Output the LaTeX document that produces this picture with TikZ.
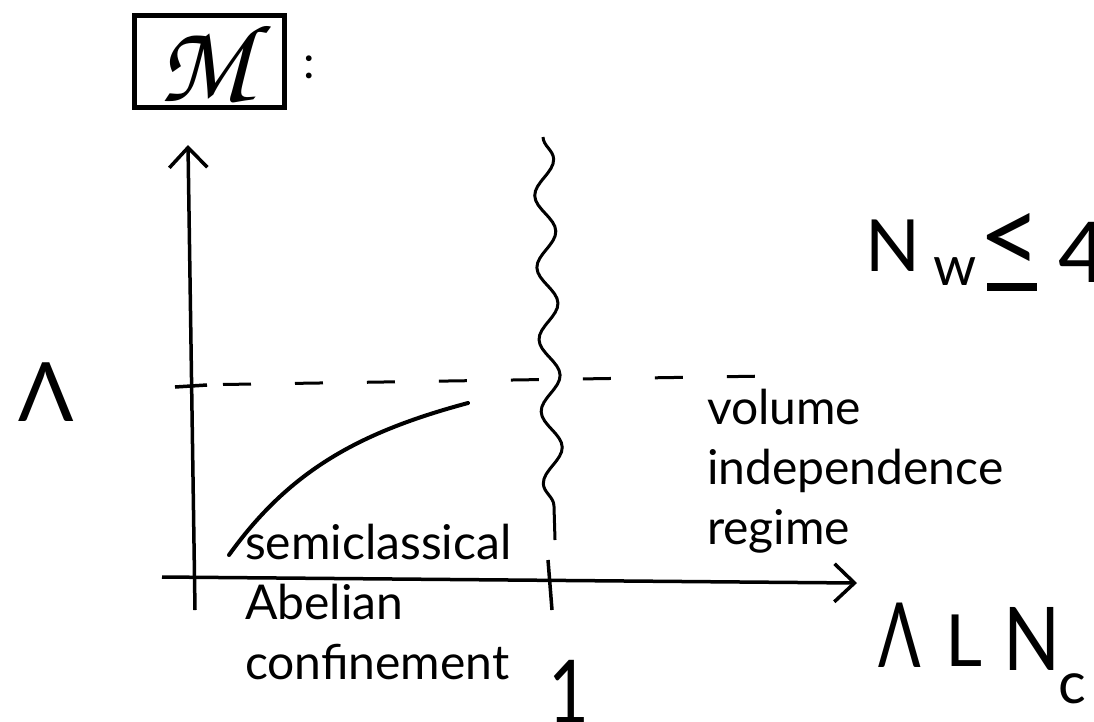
\documentclass[tikz,border=0pt]{standalone}
\usepackage[T1]{fontenc}
\usepackage{fontspec}
\setmainfont{Lato}
\usetikzlibrary{arrows.meta,decorations.pathmorphing,positioning}
\newcommand{\chancery}{\fontencoding{T1}\fontfamily{pzc}\fontseries{mb}\fontshape{it}\fontsize{112}{112}\selectfont}

\begin{document}
\begin{tikzpicture}[x=1pt, y=-1pt,
  every node/.style={inner sep=0pt, outer sep=0pt},
  regime/.style={align=left, font=\fontsize{48}{60}\selectfont},
  hand/.style={font=\fontsize{#1}{#1}\selectfont},
  axis/.style={line width=3.5pt, -{Straight Barb[length=20pt, width=38pt, line width=3.5pt]}}]
  \useasboundingbox (0,0) rectangle (1094,721);

  % Title box
  \node[draw, line width=5pt, minimum width=150pt, minimum height=92pt] (mbox) at (209.5,61.5) {};
  \node (mname) at (206,62) {\chancery M};
  \node[hand=46, anchor=west] (colon) at (303,67.5) {:};

  % Axes
  \coordinate (yfoot) at (195,610);
  \coordinate (ytip) at (188,145);
  \coordinate (xfoot) at (162,577);
  \coordinate (xtip) at (857,583);
  \draw[axis] (yfoot) -- (ytip);
  \draw[axis] (xfoot) -- (xtip);

  % Ticks
  \draw[line width=3.5pt] (175,387) -- (207,385);
  \draw[line width=3.5pt] (548,560) -- (552,610);

  % Lambda level and the wall
  \draw[line width=3pt, dash pattern=on 28pt off 44pt, dash phase=39pt] (190,385) -- (770,376);
  \draw[line width=3pt, decorate, decoration={snake, segment length=72pt, amplitude=10pt}] (543,137) -- (555,540);

  % Curve
  \draw[line width=4pt, line cap=round] (229,555) .. controls (290,470) and (360,432) .. (468,403);

  % Hand-written symbols
  \node[hand=82, anchor=north west] (lamy) at (18,363) {Λ};
  \node[hand=88, anchor=north west, xscale=0.8] (one) at (548,660) {1};
  \node[hand=72, anchor=north west] (nw) at (865,220) {N};
  \node[hand=55, anchor=north west] (wsub) at (933,258) {w};
  \node[hand=110] (less) at (1010,244) {<};
  \fill (987,283) rectangle (1037,291);
  \node[hand=84, anchor=north west] (four) at (1058,222) {4};
  \node[hand=90, anchor=north west, xscale=0.7] (lamx) at (878,603) {Λ};
  \node[hand=72, anchor=north west] (lsym) at (945,615) {L};
  \node[hand=88, anchor=north west, xscale=0.85] (nc) at (1003,607) {N};
  \node[hand=58, anchor=north west] (csub) at (1058,674) {c};

  % Regime labels
  \node[regime, anchor=north west] (semi) at (245,524) {semiclassical\\Abelian\\confinement};
  \node[regime, anchor=north west] (vol) at (707,389) {volume\\independence\\regime};
\end{tikzpicture}
\end{document}
